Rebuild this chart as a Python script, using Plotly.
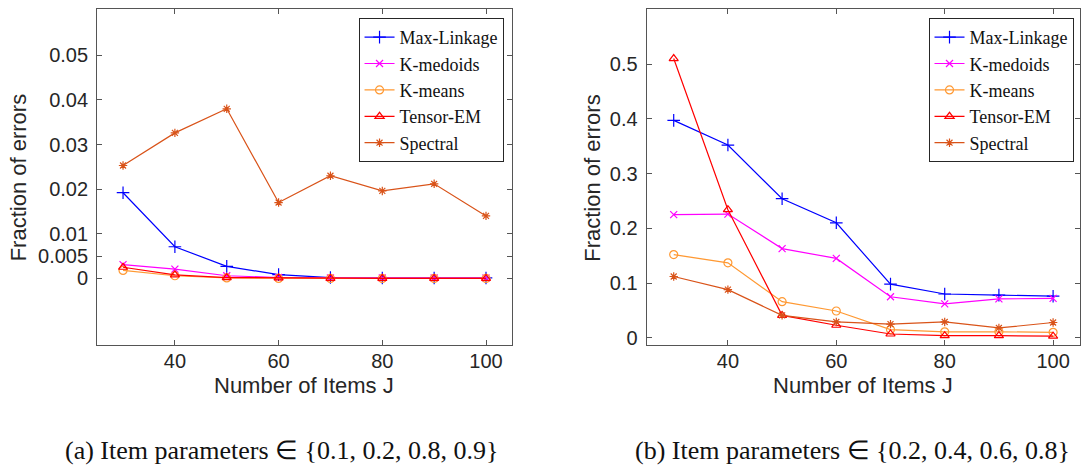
import plotly.graph_objects as go

J = [30, 40, 50, 60, 70, 80, 90, 100]
methods = ["Max-Linkage", "K-medoids", "K-means", "Tensor-EM", "Spectral"]

# panel (a): item parameters in {0.1, 0.2, 0.8, 0.9}
a_maxlink = [0.0192, 0.0071, 0.0027, 0.00085, 0.0002, 0.0001, 0.0001, 0.0001]
a_kmedoids = [0.0031, 0.0021, 0.0006, 0.0002, 0.0001, 0.0001, 0.0001, 0.0001]
a_kmeans = [0.0018, 0.0006, 0.0001, 0.0, 0.0, 0.0, 0.0, 0.0]
a_tensor = [0.0025, 0.0008, 0.0002, 0.0001, 0.0, 0.0, 0.0, 0.0]
a_spectral = [0.0253, 0.0326, 0.0380, 0.0170, 0.0230, 0.0196, 0.0212, 0.0140]

# panel (b): item parameters in {0.2, 0.4, 0.6, 0.8}
b_maxlink = [0.397, 0.352, 0.254, 0.210, 0.098, 0.080, 0.078, 0.076]
b_kmedoids = [0.225, 0.226, 0.163, 0.145, 0.075, 0.062, 0.071, 0.072]
b_kmeans = [0.152, 0.137, 0.066, 0.049, 0.015, 0.011, 0.011, 0.010]
b_tensor = [0.510, 0.234, 0.041, 0.023, 0.007, 0.004, 0.004, 0.003]
b_spectral = [0.112, 0.088, 0.041, 0.029, 0.025, 0.029, 0.018, 0.028]

a_yticks = [0, 0.005, 0.01, 0.02, 0.03, 0.04, 0.05]
a_yticktext = ["0", "0.005", "0.01", "0.02", "0.03", "0.04", "0.05"]
b_yticks = [0, 0.1, 0.2, 0.3, 0.4, 0.5, 0.6]
b_yticktext = ["0", "0.1", "0.2", "0.3", "0.4", "0.5", "0.6"]
xticks = [40, 60, 80, 100]

xtitle = "Number of Items J"
ytitle = "Fraction of errors"
cap_a = "(a) Item parameters ∈ {0.1, 0.2, 0.8, 0.9}"
cap_b = "(b) Item parameters ∈ {0.2, 0.4, 0.6, 0.8}"

colors = ["#0000FF", "#FF00FF", "#FF9933", "#FF0000", "#D95319"]
symbols = ["cross-thin-open", "x-thin-open", "circle-open", "triangle-up-open", "asterisk-open"]
sizes = [9, 7, 8, 8, 7]

W, H = 1081, 470
fig = go.Figure()

panels = [
    ([a_maxlink, a_kmedoids, a_kmeans, a_tensor, a_spectral], "x", "y", "legend"),
    ([b_maxlink, b_kmedoids, b_kmeans, b_tensor, b_spectral], "x2", "y2", "legend2"),
]
for series, xa, ya, lg in panels:
    for name, vals, c, s, sz in zip(methods, series, colors, symbols, sizes):
        fig.add_trace(go.Scatter(
            x=J, y=vals, name=name, mode="lines+markers",
            line=dict(color=c, width=1.2),
            marker=dict(symbol=s, size=sz, color=c, line=dict(color=c, width=1.2)),
            xaxis=xa, yaxis=ya, legend=lg,
        ))

ydom = [1 - 347.6 / H, 1 - 9.3 / H]
axcol = "#555555"
tickfont = dict(family="Liberation Sans, Arial, sans-serif", size=20, color="#262626")
common = dict(showline=True, linecolor=axcol, linewidth=1, mirror="allticks",
              ticks="inside", ticklen=5, tickcolor=axcol, tickwidth=1,
              showgrid=False, zeroline=False, tickfont=tickfont)

legfont = dict(family="Liberation Serif, Times New Roman, serif", size=18, color="#111")
fig.update_layout(
    width=W, height=H, margin=dict(l=0, r=0, t=0, b=0),
    paper_bgcolor="white", plot_bgcolor="white",
    xaxis=dict(domain=[97.2 / W, 512.4 / W], range=[25, 105], tickvals=xticks,
               anchor="y", ticklabelstandoff=-2, **common),
    yaxis=dict(domain=ydom, range=[-0.015, 0.0603], tickvals=a_yticks,
               ticktext=a_yticktext, anchor="x", ticklabelstandoff=4, **common),
    xaxis2=dict(domain=[647.2 / W, 1.0], range=[25, 25 + (W - 647.2) / 5.425],
                tickvals=xticks, anchor="y2", ticklabelstandoff=-2, **common),
    yaxis2=dict(domain=ydom, range=[-0.0138, 0.6], tickvals=b_yticks,
                ticktext=b_yticktext, anchor="x2", ticklabelstandoff=4, **common),
    legend=dict(x=504 / W, xanchor="right", y=1 - 18 / H, yanchor="top",
                bgcolor="white", bordercolor="#262626", borderwidth=1,
                font=legfont, itemwidth=30, tracegroupgap=0),
    legend2=dict(x=1074.5 / W, xanchor="right", y=1 - 18 / H, yanchor="top",
                 bgcolor="white", bordercolor="#262626", borderwidth=1,
                 font=legfont, itemwidth=30, tracegroupgap=0),
    showlegend=True,
)

titlefont = dict(family="Liberation Sans, Arial, sans-serif", size=22, color="#262626")
capfont = dict(family="Liberation Serif, Times New Roman, serif", size=26, color="#111")
ann = [
    dict(text=ytitle, x=18 / W, y=1 - 178.5 / H, textangle=-90, font=titlefont),
    dict(text=ytitle, x=593 / W, y=1 - 178.5 / H, textangle=-90, font=titlefont),
    dict(text=xtitle, x=304 / W, y=1 - 388 / H, font=titlefont),
    dict(text=xtitle, x=864 / W, y=1 - 388 / H, font=titlefont),
    dict(text=cap_a, x=282 / W, y=1 - 453 / H, font=capfont),
    dict(text=cap_b, x=853 / W, y=1 - 453 / H, font=capfont),
]
for a in ann:
    fig.add_annotation(xref="paper", yref="paper", xanchor="center", yanchor="middle",
                       showarrow=False, **a)

fig.write_html("out.html", config={"displayModeBar": False},
               post_script="document.body.style.margin='0';document.body.style.overflow='hidden';")
